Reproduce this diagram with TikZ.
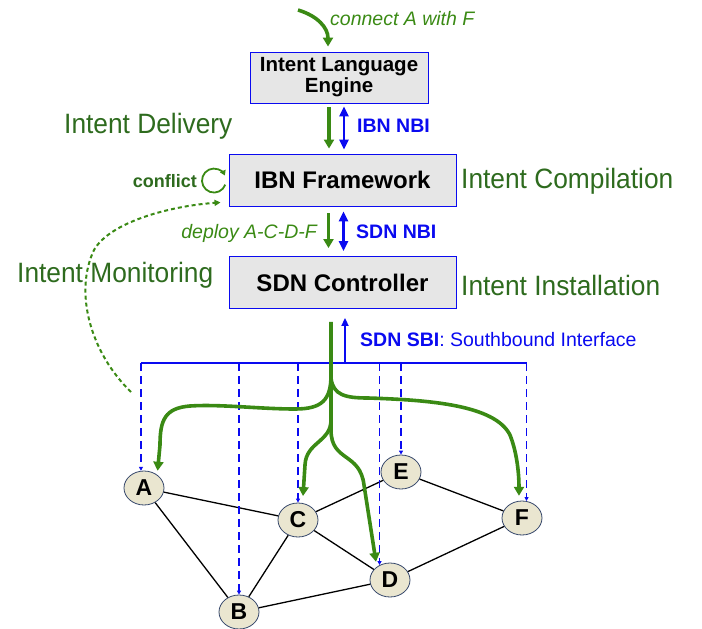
\documentclass[tikz,border=0pt]{standalone}
\usepackage{fontspec}
\setmainfont{Liberation Sans}
\usetikzlibrary{arrows.meta,shapes.geometric}
\definecolor{phasegreen}{HTML}{2E6B1E}
\definecolor{flowgreen}{HTML}{3A8A14}
\definecolor{ifblue}{HTML}{0A0AF0}
\definecolor{boxgray}{HTML}{E6E6E6}
\definecolor{netfill}{HTML}{EAE6D0}
\definecolor{netedge}{HTML}{34466A}

\begin{document}
\begin{tikzpicture}[x=1pt,y=-1pt,
    layer/.style={draw=ifblue, fill=boxgray, line width=0.9pt, minimum width=227pt, minimum height=52pt,
        font=\bfseries\fontsize{24}{26}\selectfont},
    phase/.style={text=phasegreen, font=\fontsize{28}{30}\selectfont, inner sep=0pt, xscale=0.94},
    hint/.style={text=flowgreen, font=\itshape\fontsize{19.5}{20}\selectfont, inner sep=0pt},
    iface/.style={text=ifblue, font=\bfseries\fontsize{19.5}{20}\selectfont, inner sep=0pt},
    router/.style={ellipse, draw=netedge, fill=netfill, line width=0.8pt, minimum width=40pt,
        minimum height=34pt, inner sep=0pt, font=\bfseries\fontsize{23}{24}\selectfont},
    link/.style={line width=1.3pt},
    flow/.style={draw=flowgreen, line width=3.6pt, -{Triangle[width=10pt,length=9pt]}},
    nbi/.style={draw=ifblue, line width=2.6pt, {Triangle[width=9pt,length=10pt]}-{Triangle[width=9pt,length=10pt]}},
    drop/.style={draw=ifblue, line width=1.5pt, dash pattern=on 8pt off 5pt, -{Triangle[width=4pt,length=4pt]}}
    ]
        \useasboundingbox (0,0) rectangle (702,629);

        \node[layer, minimum width=178pt, minimum height=51pt, align=center,
            font=\bfseries\fontsize{20.5}{21}\selectfont] (eng) at (339,77.5) {Intent Language\\Engine};
        \node[layer] (ibn) at (342.5,180) {IBN Framework};
        \node[layer] (sdn) at (342.5,282.5) {SDN Controller};

        \node[phase, anchor=base west] (deliv) at (64,133) {Intent Delivery};
        \node[phase, anchor=base west] (comp) at (461,188) {Intent Compilation};
        \node[phase, anchor=base west] (inst) at (461,295) {Intent Installation};
        \node[phase, anchor=base west] (moni) at (17,282) {Intent Monitoring};

        \node[hint, anchor=base west] (req) at (330,25) {connect A with F};
        \node[hint, anchor=base east] (dep) at (317,238) {deploy A-C-D-F};
        \node[iface, anchor=base west] (ibnnbi) at (357,132) {IBN NBI};
        \node[iface, anchor=base west] (sdnnbi) at (356,238) {SDN NBI};
        \node[iface, anchor=base west] (sdnsbi) at (360,346) {SDN SBI\mdseries: Southbound Interface};
        \node[anchor=base east, inner sep=0pt, text=phasegreen,
            font=\bfseries\fontsize{18}{18}\selectfont] (conf) at (197,187) {conflict};

        \node[router] (A) at (144,488) {A};
        \node[router] (B) at (239,612) {B};
        \node[router] (C) at (298,520) {C};
        \node[router] (D) at (390,580) {D};
        \node[router] (E) at (401,472) {E};
        \node[router] (F) at (522,518) {F};

        \draw[link] (A) -- (C) (A) -- (B) (B) -- (C) (C) -- (E) (C) -- (D) (B) -- (D) (D) -- (F) (E) -- (F);

        \coordinate (bus) at (345,363);
        \draw[ifblue, line width=2.5pt] (A.100 |- bus) -- (F.75 |- bus);
        \foreach \n/\a in {A/100,B/90,C/90,D/125,E/90,F/75}
            \draw[drop] (\n.\a |- bus) -- (\n.\a);
        \draw[ifblue, line width=2.5pt, -{Triangle[width=7pt,length=8pt]}, shorten >=9pt] (bus) -- (bus |- sdn.south);

        \draw[flow, shorten <=4pt, shorten >=5pt] ([xshift=-10pt]eng.south) -- ([xshift=-10pt]eng.south |- ibn.north);
        \draw[nbi, shorten <=3pt, shorten >=4pt] ([xshift=5pt]eng.south) -- ([xshift=5pt]eng.south |- ibn.north);
        \draw[flow, shorten <=7pt, shorten >=8pt] ([xshift=-14pt]ibn.south) -- ([xshift=-14pt]ibn.south |- sdn.north);
        \draw[nbi, shorten <=5pt, shorten >=5pt] ([xshift=1pt]ibn.south) -- ([xshift=1pt]ibn.south |- sdn.north);

        \coordinate (src) at (298,10);
        \draw[flow, shorten >=5pt] (src) .. controls (318,16) and (328,28) .. ([xshift=-11pt]eng.north);

        \coordinate (split) at ([xshift=-11.5pt,yshift=-13pt]sdn.south);
        \draw[flow, shorten >=5pt] (split) -- (331,430) .. controls (331,462) and (360,452) .. (364,485) -- (D.135);
        \draw[flow, shorten >=4pt] (331,375) .. controls (331,400) and (322,409) .. (295,409)
            .. controls (260,409) and (220,404) .. (190,406) .. controls (165,408) and (160,420) .. (160,445) -- (A.45);
        \draw[flow, shorten >=7pt] (331,420) .. controls (331,442) and (306,442) .. (305,465) -- (C.75);
        \draw[flow, shorten >=5pt] (331,378) .. controls (333,395) and (345,398) .. (368,398)
            .. controls (430,400) and (495,405) .. (510,435) .. controls (516,450) and (519,470) .. (F.100);

        \coordinate (probe) at (131,392);
        \draw[flowgreen, line width=2pt, dash pattern=on 4pt off 3pt, -{Triangle[width=6pt,length=6pt]}]
            (probe) .. controls (90,352) and (74,292) .. (94,250)
            .. controls (110,222) and (170,206) .. ([shift={(-8pt,4pt)}]ibn.south west);
        \draw[flowgreen, line width=1.8pt, -{Triangle[width=6pt,length=5pt]}]
            ([xshift=17pt]conf.east) ++(20:12) arc[start angle=20, end angle=335, radius=12];
\end{tikzpicture}
\end{document}
